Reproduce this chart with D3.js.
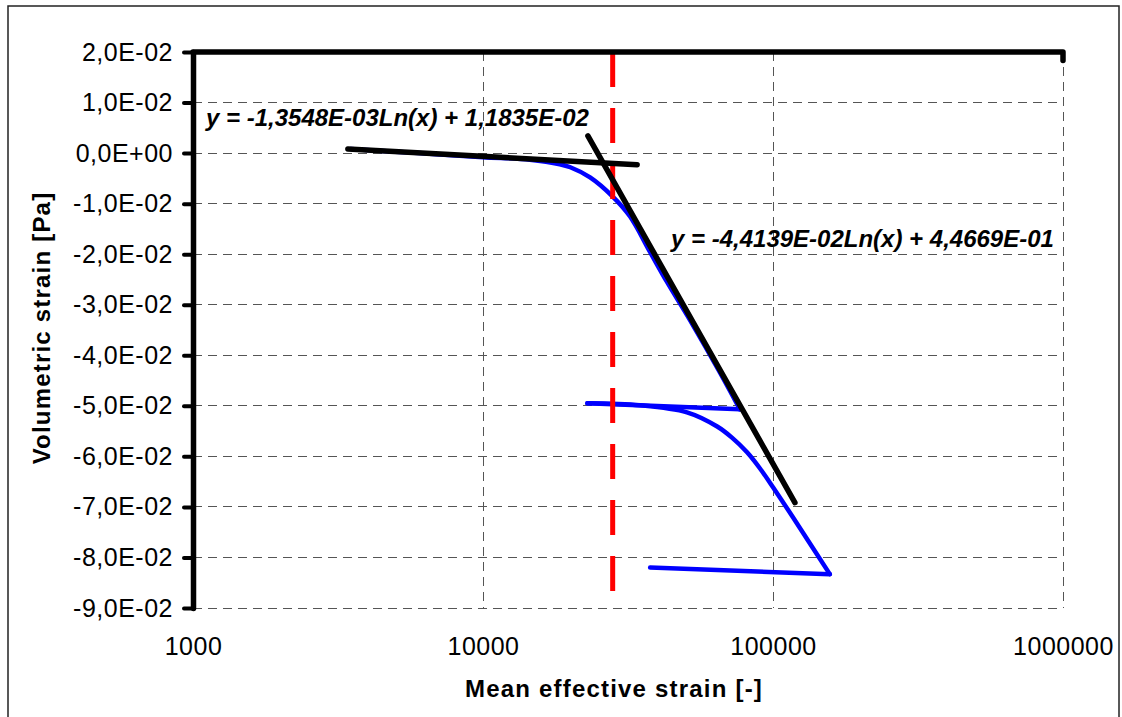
<!DOCTYPE html>
<html>
<head>
<meta charset="utf-8">
<script src="https://cdnjs.cloudflare.com/ajax/libs/d3/7.8.5/d3.min.js"></script>
<style>
  body { margin: 0; background: #fff; }
  svg { display: block; font-family: Arial, "Liberation Sans", sans-serif; }
</style>
</head>
<body>
<div id="chart"></div>
<script>
// axis ticks
var xTicks = [1000, 10000, 100000, 1000000]
var xTickLabels = ["1000", "10000", "100000", "1000000"]
var yTicks = [0.02, 0.01, 0, -0.01, -0.02, -0.03, -0.04, -0.05, -0.06, -0.07, -0.08, -0.09]
var yTickLabels = ["2,0E-02", "1,0E-02", "0,0E+00", "-1,0E-02", "-2,0E-02", "-3,0E-02",
  "-4,0E-02", "-5,0E-02", "-6,0E-02", "-7,0E-02", "-8,0E-02", "-9,0E-02"]

// blue test curve (load / unload / reload / unload)
var loadX = [3500, 6000, 10000, 14500, 18400, 20000, 23400, 27900, 32100, 37700, 43100, 51800, 65600, 76900]
var loadY = [0.0008, 0.0000, -0.0008, -0.0013, -0.0022, -0.0028, -0.0048, -0.0085, -0.0125, -0.0196, -0.0255, -0.0331, -0.0434, -0.0507]
var unload1X = [76900, 22900]
var unload1Y = [-0.0507, -0.0495]
var reloadX = [22900, 34800, 50500, 64200, 72200, 81400, 90200, 100000, 117000, 157000]
var reloadY = [-0.0495, -0.0499, -0.0513, -0.0541, -0.0563, -0.0592, -0.0624, -0.0661, -0.0720, -0.0833]
var unload2X = [157000, 37700]
var unload2Y = [-0.0833, -0.0820]

// log trend lines y = a Ln(x) + b
var trendSlope = [-1.3548e-3, -4.4139e-2]
var trendIntercept = [1.1835e-2, 4.4669e-1]
var trendFrom = [3420, 23000]
var trendTo = [34000, 119000]
var trendLabels = ["y = -1,3548E-03Ln(x) + 1,1835E-02", "y = -4,4139E-02Ln(x) + 4,4669E-01"]

// red dashed vertical marker
var limitX = 28000

// thick top frame series
var topX = [1000, 1000000, 1000000]
var topY = [0.02, 0.02, 0.0183]

var W = 1122, H = 717
var margin = { top: 52, right: 59, bottom: 109, left: 193 },
  width = W - margin.left - margin.right,
  height = H - margin.top - margin.bottom

var svg = d3.select("#chart").append("svg")
  .attr("width", W)
  .attr("height", H)

svg.append("rect")
  .attr("width", W).attr("height", H)
  .attr("fill", "#fff")

// outer chart border
svg.append("rect")
  .attr("x", 8).attr("y", 6)
  .attr("width", 1111).attr("height", 720)
  .attr("fill", "none")
  .attr("stroke", "#222")
  .attr("stroke-width", 1.5)

var x = d3.scaleLog().domain([1000, 1000000]).range([0, width])
var y = d3.scaleLinear().domain([-0.09, 0.02]).range([height, 0])

var g = svg.append("g")
  .attr("transform", "translate(" + margin.left + "," + margin.top + ")")

// grid
var grid = g.append("g")
  .attr("stroke", "#555")
  .attr("stroke-width", 1)
  .attr("stroke-dasharray", "9,6")
  .attr("shape-rendering", "crispEdges")

grid.selectAll(".hgrid").data(yTicks.filter(function (d) { return d < 0.015 }))
  .enter().append("line")
  .attr("x1", 0).attr("x2", width)
  .attr("y1", function (d) { return y(d) })
  .attr("y2", function (d) { return y(d) })

grid.selectAll(".vgrid").data(xTicks.slice(1))
  .enter().append("line")
  .attr("x1", function (d) { return x(d) })
  .attr("x2", function (d) { return x(d) })
  .attr("y1", 0).attr("y2", height)

function pairs(xs, ys) {
  return xs.map(function (d, i) { return [d, ys[i]] })
}

var smooth = d3.line()
  .x(function (d) { return x(d[0]) })
  .y(function (d) { return y(d[1]) })
  .curve(d3.curveCatmullRom.alpha(0.5))

var straight = d3.line()
  .x(function (d) { return x(d[0]) })
  .y(function (d) { return y(d[1]) })

// blue curve
var blue = g.append("g")
  .attr("fill", "none")
  .attr("stroke", "#0000ff")
  .attr("stroke-width", 4.5)
  .attr("stroke-linecap", "round")
  .attr("stroke-linejoin", "round")

blue.append("path").attr("d", smooth(pairs(loadX, loadY)))
blue.append("path").attr("d", straight(pairs(unload1X, unload1Y)))
blue.append("path").attr("d", smooth(pairs(reloadX, reloadY)))
blue.append("path").attr("d", straight(pairs(unload2X, unload2Y)))

// red marker
g.append("line")
  .attr("x1", x(limitX)).attr("x2", x(limitX))
  .attr("y1", y(0.02)).attr("y2", y(-0.09))
  .attr("stroke", "#ff0000")
  .attr("stroke-width", 5)
  .attr("stroke-dasharray", "35,21")

// trend lines
trendSlope.forEach(function (a, i) {
  var pts = [trendFrom[i], trendTo[i]].map(function (v) {
    return [v, a * Math.log(v) + trendIntercept[i]]
  })
  g.append("path")
    .attr("d", straight(pts))
    .attr("fill", "none")
    .attr("stroke", "#000")
    .attr("stroke-width", 5.5)
    .attr("stroke-linecap", "round")
})

// thick top line
g.append("path")
  .attr("d", straight(pairs(topX, topY)))
  .attr("fill", "none")
  .attr("stroke", "#000")
  .attr("stroke-width", 5.5)
  .attr("stroke-linecap", "round")
  .attr("stroke-linejoin", "round")

// y axis
var yAxis = d3.axisLeft(y)
  .tickValues(yTicks)
  .tickFormat(function (d, i) { return yTickLabels[i] })
  .tickSize(9)
  .tickSizeOuter(0)
  .tickPadding(11)

var gy = g.append("g").call(yAxis)
gy.select(".domain").attr("stroke-width", 5.5).attr("stroke-linecap", "round")
gy.selectAll(".tick line").attr("stroke-width", 4).attr("stroke-linecap", "round")
gy.selectAll(".tick text")
  .attr("font-size", 25)
  .attr("font-family", "Arial, 'Liberation Sans', sans-serif")
  .style("letter-spacing", "0.5px")
  .attr("fill", "#000")

// x axis (labels only, bottom edge is a grid line)
var xAxis = d3.axisBottom(x)
  .tickValues(xTicks)
  .tickFormat(function (d, i) { return xTickLabels[i] })
  .tickSize(0)
  .tickPadding(29)

var gx = g.append("g")
  .attr("transform", "translate(0," + height + ")")
  .call(xAxis)
gx.select(".domain").remove()
gx.selectAll(".tick text")
  .attr("font-size", 25)
  .attr("font-family", "Arial, 'Liberation Sans', sans-serif")
  .style("letter-spacing", "0.5px")
  .attr("fill", "#000")

// trend equations
var labelPos = [[206, 126], [671, 247]]
svg.selectAll(".eq").data(trendLabels)
  .enter().append("text")
  .attr("class", "eq")
  .attr("x", function (d, i) { return labelPos[i][0] })
  .attr("y", function (d, i) { return labelPos[i][1] })
  .attr("font-size", 24)
  .attr("font-weight", "bold")
  .attr("font-style", "italic")
  .attr("fill", "#000")
  .text(function (d) { return d })

// axis titles
svg.append("text")
  .attr("x", 614).attr("y", 697)
  .attr("text-anchor", "middle")
  .attr("font-size", 24)
  .attr("font-weight", "bold")
  .style("letter-spacing", "1.2px")
  .text("Mean effective strain [-]")

svg.append("text")
  .attr("transform", "translate(50,328) rotate(-90)")
  .attr("text-anchor", "middle")
  .attr("font-size", 24)
  .attr("font-weight", "bold")
  .style("letter-spacing", "1.2px")
  .text("Volumetric strain [Pa]")
</script>
</body>
</html>
